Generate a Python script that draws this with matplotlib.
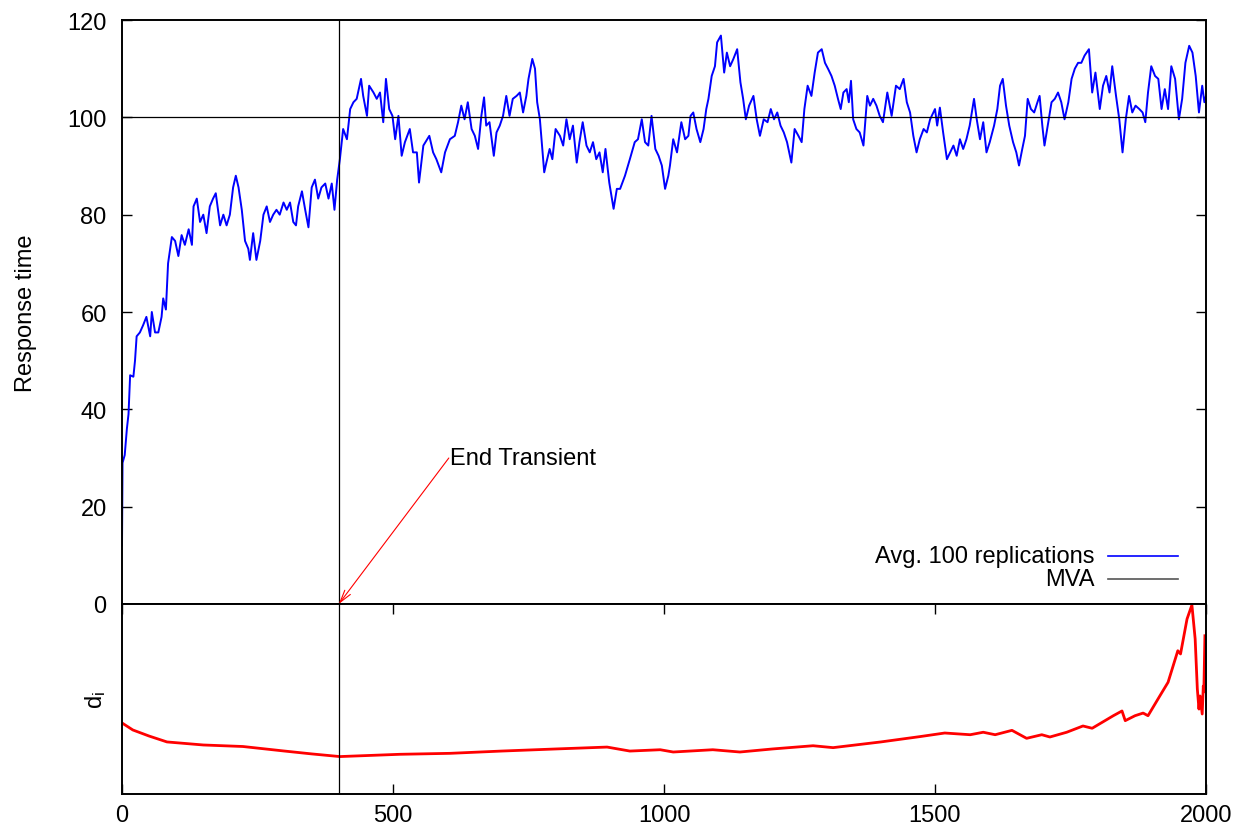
import matplotlib
matplotlib.use("Agg")
import matplotlib.pyplot as plt
from matplotlib.lines import Line2D

plt.rcParams['font.family'] = ['Liberation Sans', 'DejaVu Sans']
plt.rcParams['mathtext.default'] = 'regular'

# Avg. 100 replications (response time)
avg_x = [0, 1, 5, 9, 12, 15, 21, 24, 27, 33, 39, 45, 52, 55, 61, 67, 73, 76, 81, 85,
         92, 98, 104, 110, 116, 123, 129, 132, 138, 144, 150, 156, 162, 168, 173, 181,
         187, 193, 199, 205, 210, 215, 221, 227, 233, 236, 242, 248, 255, 261, 267, 273,
         279, 285, 291, 298, 304, 310, 316, 321, 325, 332, 338, 344, 350, 356, 362, 368,
         375, 381, 387, 392, 397,
         402, 408, 415, 421, 427, 433, 441, 445, 452, 456, 464, 470, 476, 482, 487, 493,
         499, 504, 510, 516, 522, 531, 537, 544, 548, 556, 567, 574, 580, 589, 596, 605,
         614, 620, 626, 632, 638, 645, 651, 657, 663, 668, 672, 678, 686, 691, 697, 703,
         709, 715, 721, 728, 734, 740, 746, 750, 757, 762, 766, 771, 775, 779, 783, 789,
         794, 800, 808, 814, 820, 826, 832, 839, 844, 850, 857, 863, 869, 875, 881, 887,
         892, 899, 907, 913,
         919, 928, 937, 946, 952, 959, 965, 971, 977, 984, 990, 996, 1002, 1008, 1011,
         1017, 1024, 1032, 1039, 1045, 1049, 1054, 1060, 1067, 1073, 1078, 1082, 1088,
         1094, 1098, 1105, 1111, 1116, 1122, 1128, 1135, 1141, 1146, 1151, 1157, 1165,
         1171, 1177, 1184, 1191, 1197, 1203, 1209, 1215, 1221, 1227, 1235, 1241, 1248,
         1254, 1259, 1265, 1272, 1278, 1284, 1291, 1297, 1303, 1309, 1315, 1321, 1326,
         1331, 1337, 1341, 1345, 1349, 1355, 1361, 1368, 1375, 1380, 1386, 1392, 1398,
         1404, 1412, 1420, 1428,
         1435, 1442, 1448, 1454, 1460, 1466, 1472, 1479, 1485, 1491, 1500, 1504, 1509,
         1515, 1522, 1528, 1534, 1540, 1546, 1552, 1558, 1564, 1572, 1577, 1583, 1589,
         1595, 1601, 1609, 1615, 1620, 1625, 1631, 1637, 1644, 1650, 1655, 1661, 1666,
         1671, 1677, 1683, 1689, 1693, 1698, 1702, 1709, 1715, 1721, 1727, 1733, 1739,
         1746, 1752, 1758, 1764, 1770, 1776, 1784, 1790, 1796, 1804, 1810, 1816, 1822,
         1827, 1834, 1840, 1846, 1852, 1858, 1864, 1870, 1877, 1883, 1888, 1893, 1899,
         1906, 1912, 1918, 1924, 1930, 1936, 1943, 1950, 1956, 1962, 1969, 1975, 1981,
         1987, 1993, 1997, 2000]
avg_y = [12, 29, 30.6, 36, 39, 47, 46.7, 50, 55, 55.8, 57.3, 59, 55, 60, 55.8, 55.8, 59,
         62.8, 60.5, 70, 75.4, 74.6, 71.5, 75.8, 73.8, 77, 73.8, 81.7, 83.3, 78.5, 80,
         76.2, 81.7, 83.3, 84.4, 77.8, 80, 77.8, 80, 85.6, 88, 85.6, 81, 74.6, 73, 70.7,
         76.2, 70.7, 74.6, 80, 81.7, 78.5, 80, 81, 80, 82.5, 81, 82.5, 78.5, 77.8, 81.7,
         84.8, 81, 77.4, 85.6, 87.2, 83.3, 85.6, 86.4, 83.3, 86.4, 81, 87.2,
         91.4, 97.6, 95.5, 101.7, 103.1, 103.8, 107.9, 104.4, 100.3, 106.5, 105.1, 103.8,
         105.1, 99, 107.9, 101.7, 100.3, 95.5, 100.3, 92.1, 94.9, 97.6, 92.8, 92.8, 86.6,
         94.2, 96.2, 92.8, 91.4, 88.7, 92.8, 95.5, 96.2, 99, 102.4, 99.6, 103.1, 97.6,
         96.2, 93.5, 100.3, 104.1, 98.3, 99, 92.1, 96.9, 98.3, 100.3, 104.4, 100.3, 103.8,
         104.4, 105.1, 101, 104.4, 107.9, 112, 110, 103.1, 99.6, 94.2, 88.7, 90.7, 93.5,
         91.4, 97.6, 96.2, 94.2, 99.6, 95.5, 98.3, 90.7, 94.9, 99, 94.2, 92.8, 94.9, 91.4,
         92.8, 88.7, 93.5, 86.6, 81.2, 85.3,
         85.3, 88, 91.4, 94.9, 95.5, 99.6, 94.9, 94.2, 100.3, 93.5, 92.1, 90.1, 85.3, 88,
         90.1, 95.5, 92.8, 99, 95.5, 96.2, 100.3, 101, 97.6, 94.9, 97.6, 101.7, 103.8,
         108.5, 110.5, 115.4, 116.8, 109.2, 113.3, 110.5, 112, 114, 107.2, 103.8, 99.6,
         102.4, 104.4, 99.6, 96.2, 99.6, 99, 101.7, 99.6, 101, 98.3, 96.9, 94.9, 90.7,
         97.6, 96.2, 94.9, 101.7, 106.5, 104.4, 109.2, 113.3, 114, 111.2, 109.9, 108.5,
         106.5, 103.8, 101.7, 105.1, 105.8, 103.1, 107.5, 99.6, 97.6, 96.9, 94.2, 104.4,
         102.4, 103.8, 102.4, 100.3, 99, 105.1, 100.3, 106.5,
         105.8, 107.9, 103.1, 101, 96.2, 92.8, 95.5, 97.6, 96.9, 99.6, 101.7, 98.3, 102,
         96.9, 91.4, 92.8, 94.2, 92.1, 95.5, 93.5, 95.5, 98.3, 103.8, 99.6, 95.5, 99, 92.8,
         94.9, 98.3, 101.7, 106.5, 107.9, 102.4, 98.3, 94.9, 92.8, 90.1, 93.5, 96.2, 103.8,
         101.7, 101, 103.1, 104.4, 98.3, 94.2, 99, 103.1, 103.8, 105.1, 103.1, 99.6, 103.1,
         107.9, 110, 111.2, 111.2, 112.7, 114, 105.1, 109.2, 101.7, 106.5, 108.5, 105.1,
         110.5, 104.4, 99.6, 92.8, 99.6, 104.4, 101, 102.4, 101.7, 101, 99, 105.1, 110.5,
         108.5, 107.9, 101.7, 105.8, 101.7, 110.5, 107.9, 99.6, 103.8, 111.2, 114.7, 113.3,
         108.5, 101, 106.5, 103.1, 104.4]

# MVA reference value and end of transient
mva_value = 100
end_transient = 400

# d_i curve (relative height in the lower panel)
d_x = [0, 20, 50, 83, 150, 223, 300, 350, 402, 513, 605, 700, 800, 895, 937, 993, 1017,
       1090, 1140, 1200, 1275, 1312, 1400, 1472, 1518, 1565, 1589, 1611, 1642, 1669,
       1697, 1712, 1743, 1773, 1790, 1829, 1845, 1851, 1869, 1884, 1893, 1915, 1930,
       1948, 1953, 1965, 1974, 1980, 1984, 1987, 1989, 1993, 1995, 1996, 1998]
d_y = [0.374, 0.337, 0.305, 0.274, 0.258, 0.25, 0.226, 0.211, 0.197, 0.209, 0.214, 0.226,
       0.237, 0.247, 0.226, 0.233, 0.221, 0.233, 0.221, 0.237, 0.254, 0.244, 0.274, 0.302,
       0.321, 0.312, 0.325, 0.312, 0.335, 0.293, 0.312, 0.3, 0.325, 0.358, 0.346, 0.412,
       0.437, 0.386, 0.412, 0.426, 0.412, 0.517, 0.588, 0.754, 0.737, 0.921, 0.995, 0.816,
       0.553, 0.447, 0.516, 0.421, 0.568, 0.537, 0.833]

W, H = 1243, 829
fig = plt.figure(figsize=(W / 100, H / 100), dpi=100)
ax = fig.add_axes([122 / W, 1 - 605 / H, 1084 / W, 584 / H])
ax2 = fig.add_axes([122 / W, 1 - 795 / H, 1084 / W, 190 / H], sharex=ax)

FS = 17

# top panel
ax.plot(avg_x, avg_y, color='#0000ff', lw=1.4)
ax.axhline(mva_value, color='black', lw=0.9)
ax.axvline(end_transient, color='black', lw=0.9)
ax.set_xlim(0, 2000)
ax.set_ylim(0, 120)
ax.set_yticks(range(0, 121, 20))
ax.tick_params(axis='y', direction='in', length=7, width=1, left=True, right=True,
               labelsize=FS, pad=11)
ax.tick_params(axis='x', bottom=False, top=False, labelbottom=False)
ax.set_ylabel('Response time', fontsize=FS, labelpad=22)

ax.annotate('', xy=(end_transient, 0), xytext=(603, 30),
            arrowprops=dict(arrowstyle='->,head_length=0.9,head_width=0.25',
                            color='red', lw=0.8, shrinkA=0, shrinkB=0),
            annotation_clip=False)
ax.text(606, 30, 'End Transient', fontsize=FS, ha='left', va='center')

# gnuplot-style key: right-aligned text followed by the line sample
key_entries = [('Avg. 100 replications', '#0000ff', 0.0822),
               ('MVA', '#555555', 0.0428)]
for label, col, ky in key_entries:
    ax.text(0.8976, ky, label, transform=ax.transAxes, fontsize=FS,
            ha='right', va='center')
    ax.add_line(Line2D([0.9096, 0.9742], [ky, ky], transform=ax.transAxes,
                       color=col, lw=1.2))

# bottom panel
ax2.plot(d_x, d_y, color='#ff0000', lw=2.0)
ax2.axvline(end_transient, color='black', lw=0.9)
ax2.set_ylim(0, 1)
ax2.set_yticks([])
ax2.set_xticks(range(0, 2001, 500))
ax2.tick_params(axis='x', direction='in', length=7, width=1, top=True, bottom=True,
                labelsize=FS, pad=7)
ax2.set_ylabel('d$_i$', fontsize=FS, labelpad=10)

for a in (ax, ax2):
    for s in a.spines.values():
        s.set_linewidth(1.4)

fig.savefig('out.png', dpi=100)
